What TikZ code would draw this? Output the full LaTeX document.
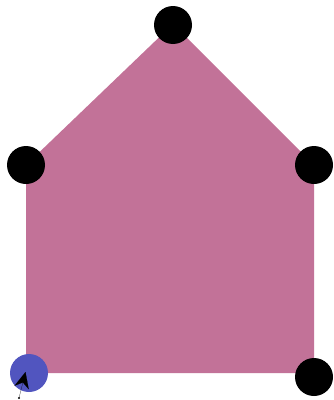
\documentclass[tikz,border=0pt]{standalone}
\usetikzlibrary{arrows.meta}
\definecolor{housepink}{HTML}{C27298}
\definecolor{markblue}{HTML}{5155BF}

\begin{document}
\begin{tikzpicture}[
  x=0.75pt, y=-0.75pt,
  vertex/.style={circle, fill=black, minimum size=28.5pt, inner sep=0pt},
  startvertex/.style={circle, fill=markblue, minimum size=28.5pt, inner sep=0pt},
  arr/.style={-{Stealth[length=12pt, width=11pt]}, line width=0.1pt, black},
]
\useasboundingbox (0,0) rectangle (334,400);

% house outline
\fill[housepink] (173,24) -- (314,165) -- (314,373) -- (26,373) -- (26,165) -- cycle;

\node[vertex] (top) at (173,25) {};
\node[vertex] (left) at (26,165) {};
\node[vertex] (right) at (314,165) {};
\node[vertex] (bright) at (314,377) {};
\node[startvertex] (bleft) at (29,373) {};

\coordinate (tail) at (19,398);
\fill (tail) circle (0.8pt);
\draw[arr] (tail) -- (25.5,372);

\end{tikzpicture}
\end{document}
